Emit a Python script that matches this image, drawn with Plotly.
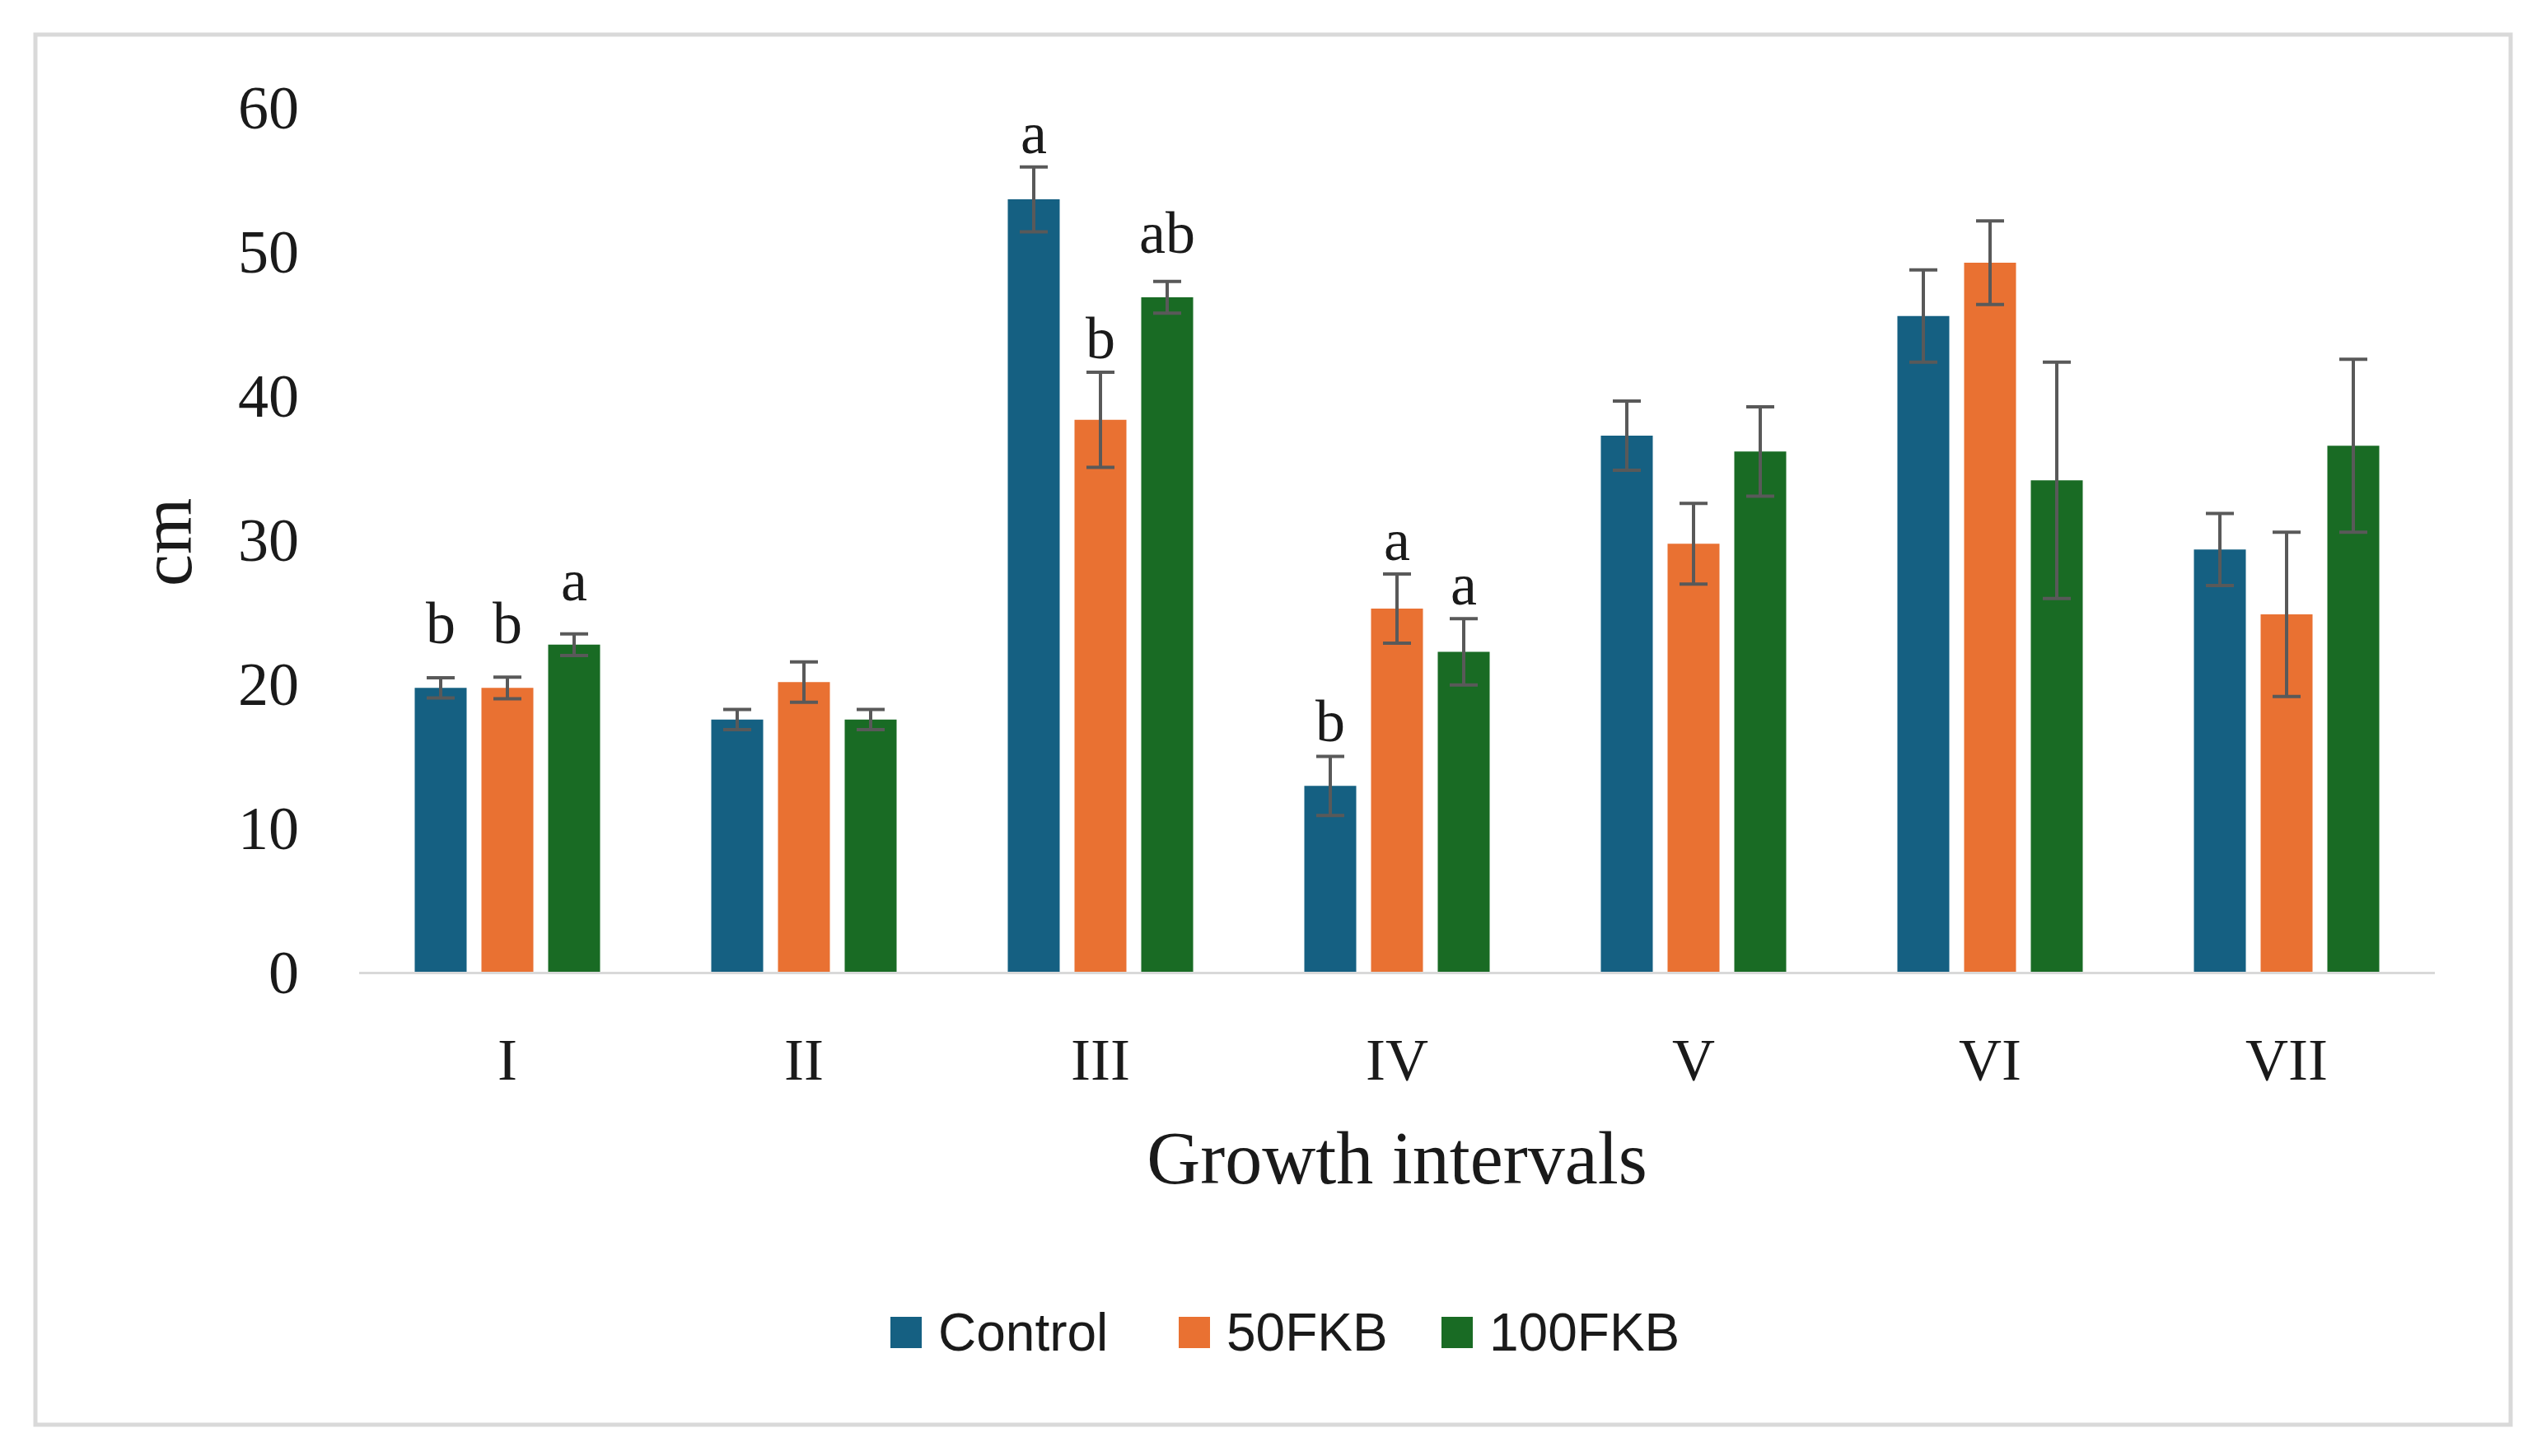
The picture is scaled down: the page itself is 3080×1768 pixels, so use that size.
import plotly.graph_objects as go

# ---------------- data ----------------
categories = ["I", "II", "III", "IV", "V", "VI", "VII"]
series_names = ["Control", "50FKB", "100FKB"]

control_vals = [19.7, 17.5, 53.6, 12.9, 37.2, 45.5, 29.3]
control_err = [0.7, 0.7, 2.25, 2.05, 2.4, 3.2, 2.5]
control_letters = ["b", "", "a", "b", "", "", ""]

fkb50_vals = [19.7, 20.1, 38.3, 25.2, 29.7, 49.2, 24.8]
fkb50_err = [0.75, 1.4, 3.3, 2.4, 2.8, 2.9, 5.7]
fkb50_letters = ["b", "", "b", "a", "", "", ""]

fkb100_vals = [22.7, 17.5, 46.8, 22.2, 36.1, 34.1, 36.5]
fkb100_err = [0.75, 0.7, 1.1, 2.3, 3.1, 8.2, 6.0]
fkb100_letters = ["a", "", "ab", "a", "", "", ""]

y_ticks = [0, 10, 20, 30, 40, 50, 60]
x_title = "Growth intervals"
y_title = "cm"

# ---------------- style ----------------
colors = ["#156082", "#E97132", "#196B24"]
W, H = 3080, 1768
ML, MR, MT, MB = 436, 124, 130, 588
PLOT_W = W - ML - MR
PLOT_H = H - MT - MB
YMAX = 60
BARGAP = 0.325
BARGROUPGAP = 0.222
SERIF = "Liberation Serif"
SANS = "Liberation Sans"
TXT = "#1a1a1a"

vals = [control_vals, fkb50_vals, fkb100_vals]
errs = [control_err, fkb50_err, fkb100_err]
letters = [control_letters, fkb50_letters, fkb100_letters]

fig = go.Figure()
for name, v, e, c in zip(series_names, vals, errs, colors):
    fig.add_trace(go.Bar(
        name=name, x=categories, y=v,
        marker=dict(color=c, line=dict(width=0)),
        error_y=dict(type="data", array=e, visible=True,
                     color="#595959", thickness=4, width=17),
        showlegend=False,
    ))

# significance letters
px_per_unit = PLOT_H / YMAX
slot = (1 - BARGAP) / len(series_names)
for si, (v, e, lab) in enumerate(zip(vals, errs, letters)):
    for ci, t in enumerate(lab):
        if not t:
            continue
        shift = max(52, e[ci] * px_per_unit + 15) - 16
        fig.add_annotation(
            x=ci + (si - 1) * slot, y=v[ci], xref="x", yref="y",
            text=t, showarrow=False, yanchor="bottom", yshift=shift,
            font=dict(family=SERIF, size=72, color=TXT),
        )

# custom legend (large square swatches)
legend_x_px = [1081, 1431, 1750]
legend_y_px = 1618
sq = 38
def px2x(px):
    return (px - ML) / PLOT_W
def px2y(py):
    return (MT + PLOT_H - py) / PLOT_H
for name, c, lx in zip(series_names, colors, legend_x_px):
    fig.add_shape(type="rect", xref="paper", yref="paper",
                  x0=px2x(lx), x1=px2x(lx + sq),
                  y0=px2y(legend_y_px + sq / 2), y1=px2y(legend_y_px - sq / 2),
                  fillcolor=c, line=dict(width=0))
    fig.add_annotation(x=px2x(lx + sq + 18), y=px2y(legend_y_px),
                       xref="paper", yref="paper", text=name, showarrow=False,
                       xanchor="left", yanchor="middle",
                       font=dict(family=SANS, size=64, color=TXT))

# outer chart border
fig.add_shape(type="rect", xref="paper", yref="paper",
              x0=px2x(43), x1=px2x(3048), y0=px2y(1730), y1=px2y(42),
              line=dict(color="#d9d9d9", width=5), fillcolor="rgba(0,0,0,0)")

# y axis title as rotated text
fig.add_annotation(x=px2x(202), y=px2y(658), xref="paper", yref="paper",
                   text=y_title, showarrow=False, textangle=-90,
                   xanchor="center", yanchor="middle",
                   font=dict(family=SERIF, size=88, color=TXT))

fig.update_layout(
    width=W, height=H,
    margin=dict(l=ML, r=MR, t=MT, b=MB),
    paper_bgcolor="white", plot_bgcolor="white",
    barmode="group", bargap=BARGAP, bargroupgap=BARGROUPGAP,
    showlegend=False,
)
fig.update_xaxes(
    type="category", showgrid=False, zeroline=False,
    showline=True, linecolor="#d9d9d9", linewidth=3,
    ticks="", ticklabelstandoff=42,
    tickfont=dict(family=SERIF, size=72, color=TXT),
    title=dict(text=x_title, font=dict(family=SERIF, size=90, color=TXT), standoff=48),
)
fig.update_yaxes(
    range=[0, YMAX], tickvals=y_ticks, showgrid=False, zeroline=False,
    showline=False, ticks="", ticklabelstandoff=72,
    tickfont=dict(family=SERIF, size=74, color=TXT),
)

fig.write_html("out.html", config={"displayModeBar": False},
               post_script="document.body.style.margin='0px';")
